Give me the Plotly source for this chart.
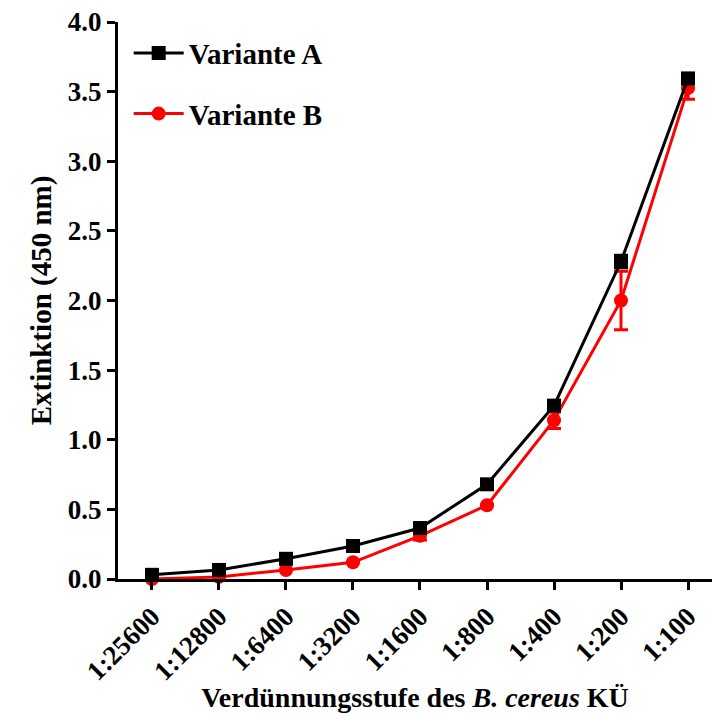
import plotly.graph_objects as go

# Dilution steps of the B. cereus culture supernatant
dilutions = ["1:25600", "1:12800", "1:6400", "1:3200", "1:1600",
             "1:800", "1:400", "1:200", "1:100"]

# Mean extinction at 450 nm and error
variante_a = [0.03, 0.065, 0.145, 0.237, 0.366, 0.68, 1.245, 2.28, 3.595]
variante_a_err = [0.0, 0.0, 0.0, 0.0, 0.0, 0.0, 0.0, 0.045, 0.0]
variante_b = [0.0, 0.015, 0.065, 0.12, 0.31, 0.53, 1.14, 2.0, 3.525]
variante_b_err = [0.0, 0.0, 0.0, 0.0, 0.03, 0.0, 0.06, 0.21, 0.08]

FONT = "Liberation Serif"
x_idx = list(range(len(dilutions)))

fig = go.Figure()

fig.add_trace(go.Scatter(
    x=x_idx, y=variante_b, name="Variante B", mode="lines+markers",
    legendgroup="b", legendrank=2,
    line=dict(color="#ff0000", width=3),
    marker=dict(symbol="circle", size=14, color="#ff0000"),
    error_y=dict(type="data", array=variante_b_err, visible=True,
                 color="#ff0000", thickness=3, width=7),
    cliponaxis=False,
))

fig.add_trace(go.Scatter(
    x=x_idx, y=variante_a, name="Variante A", mode="lines+markers",
    legendgroup="a", legendrank=1,
    line=dict(color="#000000", width=3),
    marker=dict(symbol="square", size=14, color="#000000"),
    error_y=dict(type="data", array=variante_a_err, visible=True,
                 color="#000000", thickness=3, width=7),
    cliponaxis=False,
))

fig.update_layout(
    width=712, height=713,
    margin=dict(l=118, r=0, t=22, b=134),
    paper_bgcolor="white", plot_bgcolor="white",
    font=dict(family=FONT, size=26, color="black", weight="bold"),
    showlegend=True,
    legend=dict(
        x=0.018, y=0.99, xanchor="left", yanchor="top",
        font=dict(family=FONT, size=29, color="black", weight="bold"),
        tracegroupgap=20, itemwidth=50, bgcolor="rgba(0,0,0,0)",
    ),
)

fig.update_xaxes(
    range=[-0.507, 8.358],
    tickmode="array", tickvals=x_idx, ticktext=dilutions,
    tickangle=-45,
    showline=True, linecolor="black", linewidth=3,
    ticks="outside", ticklen=8, tickwidth=3, tickcolor="black",
    showgrid=False, zeroline=False,
    tickfont=dict(family=FONT, size=27, color="black", weight="bold"),
    title=dict(text="Verdünnungsstufe des <i>B. cereus</i> KÜ",
               font=dict(family=FONT, size=28, color="black", weight="bold"),
               standoff=3),
)

fig.update_yaxes(
    range=[0, 4.0],
    tickmode="array", tickvals=[0, 0.5, 1, 1.5, 2, 2.5, 3, 3.5, 4],
    ticktext=["0.0", "0.5", "1.0", "1.5", "2.0", "2.5", "3.0", "3.5", "4.0"],
    showline=True, linecolor="black", linewidth=3,
    ticks="outside", ticklen=8, tickwidth=3, tickcolor="black",
    showgrid=False, zeroline=False,
    tickfont=dict(family=FONT, size=27, color="black", weight="bold"),
    title=dict(text="Extinktion (450 nm)",
               font=dict(family=FONT, size=29, color="black", weight="bold"),
               standoff=8),
)

fig.write_html("out.html")
